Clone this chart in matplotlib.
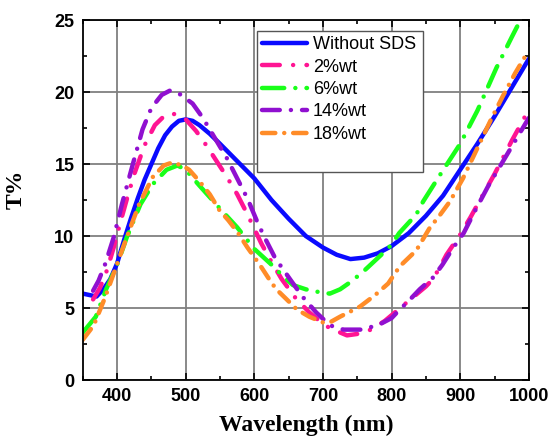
import matplotlib.pyplot as plt
from matplotlib.patches import Rectangle
from matplotlib.ticker import MultipleLocator

# Without SDS
wl_0 = [350, 360, 370, 380, 390, 400, 410, 420, 430, 440, 450, 460, 470, 480, 490, 500, 510,
        520, 535, 550, 575, 600, 625, 650, 675, 700, 720, 740, 760, 780, 800, 825, 850, 875,
        900, 925, 950, 975, 1000]
t_0 = [6.0, 5.9, 5.8, 6.3, 7.0, 8.1, 9.7, 11.2, 12.6, 13.9, 15.0, 16.1, 17.0, 17.6, 18.0, 18.1,
       18.0, 17.7, 17.1, 16.4, 15.2, 14.0, 12.5, 11.2, 10.0, 9.2, 8.7, 8.4, 8.5, 8.8, 9.3, 10.2,
       11.4, 12.8, 14.6, 16.4, 18.3, 20.3, 22.3]

# 2%wt
wl_2 = [365, 375, 385, 395, 405, 415, 425, 440, 455, 470, 480, 490, 500, 515, 530, 545, 560,
        575, 590, 600, 610, 625, 640, 660, 680, 695, 710, 725, 735, 750, 770, 790, 810, 830,
        850, 860, 870, 880, 900, 915, 930, 950, 962, 975, 990, 1000]
t_2 = [5.6, 6.4, 7.6, 9.2, 11.0, 12.7, 14.3, 16.3, 17.7, 18.4, 18.5, 18.4, 18.1, 17.3, 16.3,
       15.2, 14.1, 12.9, 11.5, 10.5, 9.5, 8.2, 7.0, 5.7, 4.7, 4.1, 3.6, 3.3, 3.1, 3.2, 3.5, 4.1,
       4.9, 5.7, 6.5, 7.0, 7.8, 8.7, 10.1, 11.3, 12.6, 14.3, 15.4, 16.6, 17.9, 18.8]

# 6%wt
wl_6 = [350, 369, 384, 400, 414, 434, 452, 472, 488, 500, 520, 535, 550, 575, 600, 623, 640,
        656, 675, 695, 710, 725, 740, 758, 785, 800, 811, 836, 846, 870, 900, 925, 953, 975, 990]
t_6 = [3.3, 4.4, 6.3, 8.0, 9.9, 12.2, 13.6, 14.6, 14.9, 14.6, 13.5, 12.7, 11.9, 10.6, 9.1, 8.1,
       7.3, 6.6, 6.3, 6.1, 6.0, 6.3, 6.8, 7.5, 8.7, 9.4, 10.2, 11.5, 12.4, 14.2, 16.4, 18.7,
       21.7, 23.8, 25.2]

# 14%wt
wl_14 = [365, 373, 383, 395, 407, 423, 437, 450, 465, 477, 490, 510, 525, 545, 560, 575, 590,
         605, 615, 630, 652, 670, 690, 710, 730, 755, 780, 800, 812, 825, 841, 860, 874, 890,
         905, 920, 940, 960, 980, 1000]
t_14 = [6.2, 6.9, 8.1, 9.9, 12.2, 15.0, 17.4, 18.9, 19.8, 20.1, 19.9, 19.2, 18.2, 16.6, 15.4,
        14.0, 12.6, 10.9, 9.9, 8.5, 7.0, 5.8, 4.7, 3.8, 3.5, 3.5, 3.8, 4.3, 4.9, 5.5, 6.3, 7.1,
        8.0, 9.2, 10.2, 11.6, 13.4, 15.0, 16.6, 18.2]

# 18%wt
wl_18 = [350, 366, 383, 398, 414, 432, 452, 468, 480, 495, 505, 520, 535, 549, 562, 575, 590,
         608, 623, 632, 645, 662, 680, 700, 710, 725, 754, 776, 795, 812, 836, 856, 868, 885,
         904, 925, 945, 962, 980, 1000]
t_18 = [2.8, 3.8, 5.8, 7.8, 9.9, 12.2, 14.1, 14.9, 15.1, 14.9, 14.6, 13.8, 12.9, 11.8, 11.1,
        10.3, 9.2, 8.0, 6.9, 6.3, 5.7, 4.9, 4.4, 4.0, 4.0, 4.4, 5.1, 5.9, 6.7, 7.9, 9.0, 10.6,
        11.3, 12.4, 14.0, 16.1, 18.1, 19.7, 21.3, 22.9]

labels = ['Without SDS', '2%wt', '6%wt', '14%wt', '18%wt']

fig = plt.figure(figsize=(5.52, 4.45), dpi=100)
ax = fig.add_axes([0.150, 0.146, 0.808, 0.809])
ax.set_axisbelow(True)
ax.grid(True, color='#808080', lw=1.3)

lw = 3.2
ax.plot(wl_0, t_0, color='#0a0aff', lw=lw, solid_capstyle='round', label=labels[0])
ax.plot(wl_2, t_2, color='#ff1493', lw=lw, ls=(0, (4, 3, 0.01, 3)),
        dash_capstyle='round', label=labels[1])
ax.plot(wl_6, t_6, color='#19ff19', lw=lw, ls=(0, (5, 2.5, 0.01, 2.5)),
        dash_capstyle='round', label=labels[2])
ax.plot(wl_14, t_14, color='#9010d0', lw=lw, ls=(0, (4, 2.5, 0.01, 2.5)),
        dash_capstyle='round', label=labels[3])
ax.plot(wl_18, t_18, color='#ff8c28', lw=lw, ls=(0, (3, 2, 0.01, 2)),
        dash_capstyle='round', label=labels[4])

ax.set_xlim(350, 1000)
ax.set_ylim(0, 25)
ax.xaxis.set_major_locator(MultipleLocator(100))
ax.xaxis.set_minor_locator(MultipleLocator(50))
ax.yaxis.set_major_locator(MultipleLocator(5))
ax.yaxis.set_minor_locator(MultipleLocator(2.5))
ax.tick_params(which='both', direction='in', top=True, right=True, width=1.2)
ax.tick_params(which='major', length=5, labelsize=13, pad=6)
ax.tick_params(which='minor', length=3)
for lab in ax.get_xticklabels() + ax.get_yticklabels():
    lab.set_fontfamily('Liberation Sans')
    lab.set_fontweight('bold')
for sp in ax.spines.values():
    sp.set_linewidth(1.3)

ax.set_xlabel('Wavelength (nm)', family='Liberation Serif', fontweight='bold', fontsize=17,
              labelpad=7)
ax.set_ylabel('T%', family='Liberation Serif', fontweight='bold', fontsize=17, labelpad=8)
ax.yaxis.set_label_coords(-0.125, 0.53)

# legend box is taller than its entries in the original
box = Rectangle((0.39, 0.578), 0.372, 0.392, transform=ax.transAxes, facecolor='white',
                edgecolor='#555555', lw=1.0, zorder=4)
ax.add_patch(box)
leg = ax.legend(loc='upper left', bbox_to_anchor=(0.39, 0.97),
                prop={'family': 'Liberation Sans', 'size': 13}, handlelength=2.5,
                handletextpad=0.3, borderpad=0.3, labelspacing=0.3, borderaxespad=0,
                frameon=False)
leg.set_zorder(5)

fig.savefig('out.png', dpi=100)
